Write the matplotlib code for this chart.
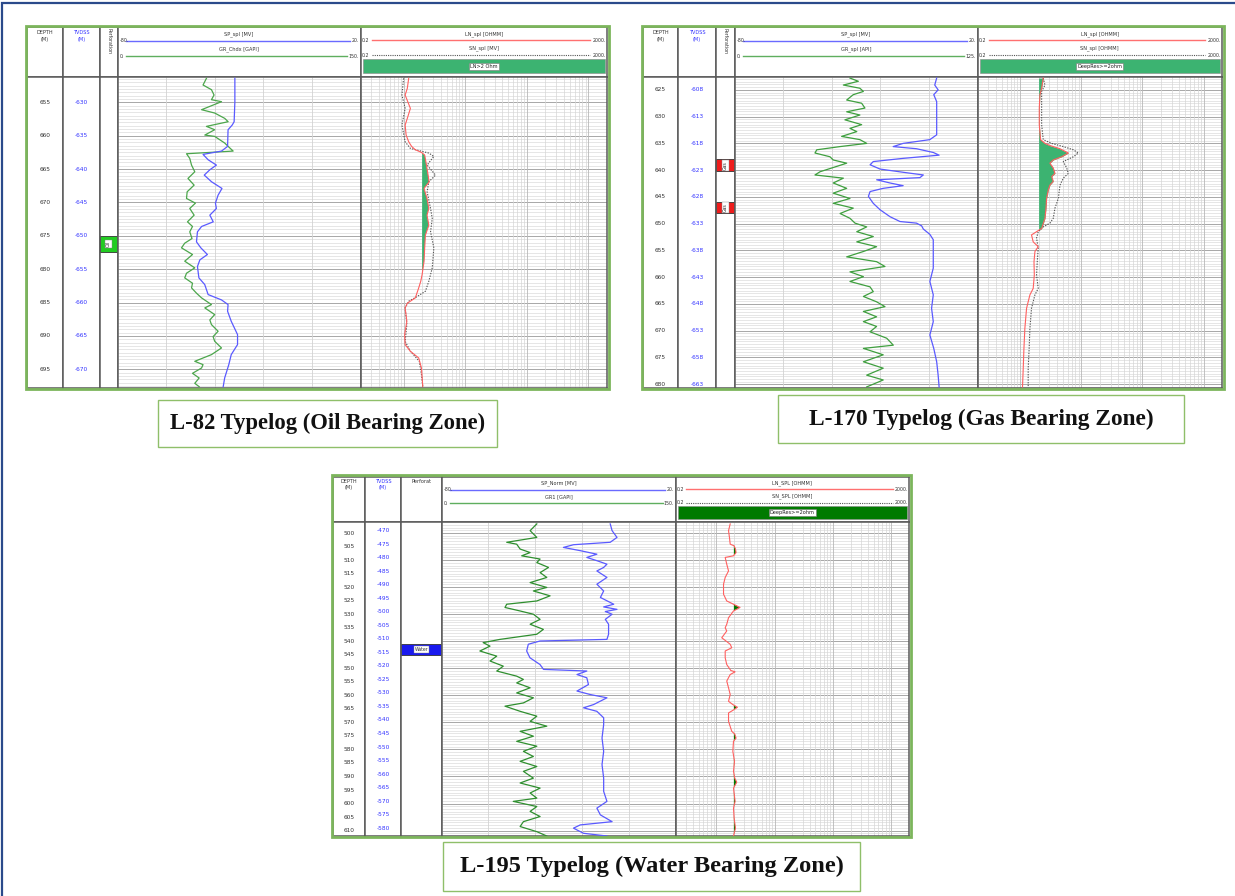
import numpy as np
import matplotlib
matplotlib.use("Agg")
import matplotlib.pyplot as plt
from matplotlib.patches import Rectangle
from matplotlib.ticker import LogLocator, NullFormatter

W, H = 1235, 896

# ---------------- data: L-82 (oil) ----------------
l82_gr_depth = [651.4, 652.4, 653.1, 653.9, 654.6, 654.9, 656.1, 656.6, 657.4, 657.9, 658.6, 659.1, 659.9,
                660.1, 661.1, 661.6, 662.3, 662.7, 663.4, 664.4, 665.4, 666.4, 667.4, 668.4, 669.4, 670.1,
                670.9, 671.9, 672.9, 673.6, 674.4, 675.4, 676.1, 676.8, 677.8, 678.8, 679.8, 680.6, 681.3,
                682.1, 682.8, 683.6, 684.3, 685.3, 685.8, 686.8, 687.6, 688.3, 689.3, 690.1, 690.8, 691.8,
                692.8, 693.8, 694.3, 694.8, 695.6, 696.3, 697.1, 697.6]
l82_gr = [54.9, 52.8, 58.0, 59.6, 58.0, 64.2, 51.9, 60.0, 66.2, 68.3, 54.9, 60.0, 53.9,
          60.0, 66.2, 68.3, 71.4, 42.6, 44.6, 45.7, 47.7, 43.5, 47.3, 43.0, 42.6, 48.1,
          44.6, 47.3, 43.2, 46.3, 44.6, 46.0, 41.5, 39.5, 46.3, 41.5, 47.7, 42.6, 41.5,
          46.3, 45.7, 48.8, 51.9, 58.0, 53.9, 60.0, 57.0, 58.0, 62.1, 59.0, 60.0, 64.2,
          58.0, 47.7, 52.8, 51.9, 46.3, 50.4, 47.7, 50.4]
l82_sp_depth = [651.4, 654.9, 657.9, 658.4, 659.1, 661.6, 662.3, 662.8, 663.6, 664.4, 665.1, 665.9, 666.9,
                667.9, 668.9, 670.1, 670.9, 671.9, 672.9, 673.6, 674.4, 675.9, 676.8, 677.8, 678.6, 679.6,
                681.3, 682.3, 683.8, 684.6, 685.3, 686.3, 687.8, 689.8, 691.3, 692.8, 694.3, 696.3, 697.6]
l82_sp = [-31.7, -31.7, -32.0, -32.8, -34.5, -34.7, -37.2, -44.8, -42.7, -39.3, -42.0, -44.3, -41.3,
          -37.0, -38.6, -39.7, -39.3, -42.0, -40.6, -45.4, -47.1, -47.5, -45.7, -43.0, -46.1, -47.1,
          -46.5, -44.1, -42.7, -37.2, -34.5, -34.7, -33.2, -30.6, -30.6, -33.2, -34.2, -35.9, -36.5]
l82_ln_depth = [651.4, 652.9, 653.9, 655.9, 657.4, 658.4, 659.9, 660.9, 661.6, 662.1, 662.5, 662.9, 663.9,
                665.4, 666.9, 667.9, 669.4, 670.9, 671.9, 673.4, 674.9, 676.8, 678.8, 680.8, 681.8, 682.8,
                684.3, 685.1, 685.8, 687.8, 689.8, 691.3, 692.3, 693.3, 694.8, 697.6]
l82_ln = [1.21, 1.15, 1.06, 1.29, 1.15, 1.06, 1.10, 1.21, 1.35, 1.55, 1.95, 2.20, 2.30,
          2.45, 2.60, 2.15, 2.40, 2.57, 2.40, 2.57, 2.26, 2.20, 2.15, 2.00, 1.90, 1.76,
          1.55, 1.15, 1.06, 1.13, 1.04, 1.06, 1.29, 1.76, 1.95, 2.05]
l82_sn_depth = [651.4, 653.9, 655.9, 658.4, 660.9, 661.9, 662.6, 663.1, 664.4, 665.9, 666.9, 668.4, 670.9,
                672.4, 674.4, 676.8, 679.8, 681.8, 683.3, 684.1, 684.8, 685.8, 688.3, 690.8, 692.3, 693.8,
                695.8, 697.6]
l82_sn = [1.00, 0.94, 1.06, 0.94, 1.06, 1.29, 2.57, 3.10, 2.41, 3.30, 2.57, 2.41, 2.74,
          2.92, 2.74, 3.10, 2.92, 2.57, 2.26, 1.66, 1.21, 1.06, 1.13, 1.06, 1.29, 1.80,
          1.95, 2.05]

# ---------------- data: L-170 (gas) ----------------
l170_gr_depth = [622.8, 623.4, 624.1, 624.7, 625.3, 625.9, 626.9, 627.5, 628.4, 629.1, 629.7, 630.6, 631.5,
                 632.2, 632.8, 633.7, 634.3, 635.0, 635.6, 636.2, 636.8, 637.5, 638.1, 638.7, 639.3, 640.3,
                 640.9, 641.5, 642.4, 643.4, 644.3, 645.3, 646.2, 647.1, 648.1, 649.0, 649.9, 650.6, 651.5,
                 652.4, 653.4, 654.3, 655.2, 656.2, 657.1, 658.0, 659.0, 659.9, 660.8, 661.8, 662.7, 663.6,
                 664.6, 665.5, 666.4, 667.4, 668.3, 669.2, 670.2, 671.4, 672.7, 673.3, 674.5, 675.8, 677.0,
                 678.3, 679.2, 680.5]
l170_gr = [59.4, 63.7, 56.0, 64.5, 66.3, 61.1, 57.7, 65.4, 67.1, 57.7, 64.5, 56.8, 65.4,
           59.4, 62.9, 55.1, 64.5, 68.0, 54.3, 42.3, 41.4, 49.1, 50.8, 57.7, 52.6, 44.0,
           41.4, 56.0, 50.8, 57.7, 50.8, 59.4, 50.8, 61.1, 54.3, 59.4, 62.0, 68.0, 62.9,
           71.4, 62.9, 73.1, 66.3, 57.7, 73.1, 77.4, 59.4, 66.3, 59.4, 69.7, 71.4, 66.3,
           73.1, 77.4, 66.3, 73.1, 66.3, 73.1, 69.7, 78.3, 81.7, 66.3, 76.5, 66.3, 76.5,
           68.0, 76.5, 68.0]
l170_sp_depth = [622.8, 624.1, 625.0, 625.9, 627.2, 633.4, 634.3, 635.0, 635.6, 636.0, 636.7, 637.2, 637.8,
                 638.4, 639.0, 639.8, 640.4, 640.9, 641.4, 641.8, 642.4, 642.9, 643.4, 644.0, 644.9, 646.2,
                 647.4, 648.7, 649.6, 649.9, 650.4, 651.0, 652.0, 653.0, 655.8, 658.3, 660.8, 663.3, 665.8,
                 668.3, 670.8, 673.3, 675.8, 678.3, 680.5]
l170_sp = [3.2, 2.4, 3.8, 2.0, 3.2, 3.2, 0.4, -10.6, -14.7, -5.1, 1.8, 4.2, -10.6,
           -22.9, -24.2, -20.1, -10.6, -2.3, -3.7, -21.5, -16.0, -10.6, -18.8, -24.2, -24.9, -22.9,
           -20.1, -16.0, -11.9, -5.1, -3.0, -2.3, 0.4, 1.8, 1.8, 1.8, 0.4, 1.8, 1.1,
           1.8, 0.4, 2.0, 3.2, 3.8, 4.2]
l170_ln_depth = [622.8, 624.7, 625.9, 628.4, 631.5, 634.3, 635.0, 635.4, 636.0, 636.8, 637.5, 638.1, 638.7,
                 639.6, 640.6, 641.2, 642.1, 642.8, 643.7, 645.3, 647.1, 649.0, 650.9, 651.5, 652.1, 653.4,
                 654.3, 655.2, 657.1, 659.6, 662.1, 663.3, 665.8, 669.6, 673.3, 677.0, 680.5]
l170_ln = [2.38, 2.24, 2.10, 2.05, 2.05, 2.15, 2.54, 3.06, 4.47, 6.12, 4.77, 3.47, 3.06,
           3.47, 3.70, 3.27, 3.47, 3.06, 2.88, 2.70, 2.64, 2.54, 2.24, 1.85, 1.53, 1.63,
           1.97, 1.74, 1.68, 1.70, 1.63, 1.44, 1.27, 1.19, 1.15, 1.12, 1.09]
l170_sn_depth = [622.8, 624.1, 625.3, 631.5, 634.3, 635.0, 635.6, 636.2, 636.8, 637.5, 638.4, 639.6, 640.6,
                 641.5, 642.8, 645.3, 647.1, 649.0, 649.9, 650.6, 651.5, 652.7, 654.6, 657.1, 659.6, 662.1,
                 663.3, 665.8, 669.6, 673.3, 677.0, 680.5]
l170_sn = [2.38, 2.54, 2.24, 2.24, 2.38, 3.27, 5.07, 7.40, 8.93, 7.40, 5.07, 5.76, 6.12,
           5.07, 4.47, 4.20, 3.70, 3.47, 3.06, 2.38, 1.97, 1.85, 1.97, 1.90, 1.85, 1.97,
           1.74, 1.53, 1.44, 1.40, 1.35, 1.35]

# ---------------- data: L-195 (water) ----------------
l195_gr_depth = [496.6, 499.1, 501.6, 503.4, 504.1, 505.9, 507.2, 508.4, 509.6, 510.9, 512.7, 514.6, 516.4,
                 518.3, 520.1, 521.4, 523.2, 525.1, 526.3, 527.5, 528.8, 530.0, 531.9, 533.7, 535.6, 537.4,
                 539.3, 540.5, 541.8, 543.6, 545.5, 547.3, 549.2, 551.0, 552.9, 554.1, 555.4, 557.2, 559.1,
                 560.9, 562.8, 564.0, 565.9, 567.7, 569.6, 571.4, 573.3, 575.1, 577.0, 578.8, 580.7, 582.6,
                 584.4, 586.3, 588.1, 590.6, 592.4, 594.3, 596.1, 598.0, 599.2, 601.1, 602.9, 604.8, 606.7,
                 608.5, 610.4, 612.0]
l195_gr = [61.1, 56.8, 61.1, 41.8, 48.2, 50.4, 56.8, 51.4, 63.2, 61.1, 68.6, 63.2, 67.5,
           56.8, 67.5, 58.9, 69.6, 61.1, 41.8, 40.7, 50.4, 58.9, 63.2, 56.8, 65.3, 61.1,
           37.5, 26.7, 31.1, 24.6, 35.4, 31.1, 39.6, 35.4, 48.2, 52.5, 48.2, 56.8, 48.2,
           58.9, 52.5, 40.7, 50.4, 61.1, 56.8, 67.5, 50.4, 58.9, 48.2, 61.1, 52.5, 58.9,
           50.4, 61.1, 52.5, 58.9, 50.4, 63.2, 56.8, 61.1, 46.0, 61.1, 56.8, 63.2, 52.5,
           50.4, 61.1, 67.5]
l195_sp_depth = [496.6, 499.1, 501.6, 503.4, 504.3, 505.3, 506.5, 507.8, 509.0, 510.2, 511.5, 512.7, 514.0,
                 516.4, 518.9, 521.4, 523.8, 526.3, 527.3, 528.2, 529.0, 530.0, 531.9, 533.7, 537.4, 539.3,
                 539.9, 541.1, 543.6, 546.1, 548.6, 550.4, 551.0, 552.3, 553.5, 556.0, 558.4, 559.7, 560.9,
                 563.4, 564.6, 565.9, 568.3, 570.8, 575.8, 580.7, 585.6, 590.6, 595.5, 599.2, 601.7, 604.2,
                 606.7, 607.9, 609.1, 611.0, 612.0]
l195_sp = [-7.9, -7.1, -5.0, -7.9, -23.6, -27.9, -20.7, -13.6, -17.9, -13.6, -9.3, -10.7, -13.6,
           -9.3, -13.6, -10.7, -12.1, -6.4, -10.7, -5.0, -10.0, -7.1, -10.0, -8.6, -8.6, -9.3,
           -37.9, -42.9, -43.6, -42.2, -37.9, -36.4, -17.9, -22.1, -17.9, -17.2, -22.1, -16.4, -9.3,
           -15.0, -19.3, -13.6, -10.7, -10.7, -11.4, -10.7, -11.4, -10.7, -10.7, -9.3, -13.6, -12.1,
           -7.1, -20.7, -23.6, -19.3, -9.3]
l195_ln_depth = [496.6, 499.1, 501.6, 504.1, 504.7, 505.9, 507.2, 508.4, 509.0, 511.5, 514.0, 516.4, 518.9,
                 522.6, 525.1, 526.3, 527.5, 528.8, 531.3, 533.7, 535.0, 536.2, 538.7, 541.1, 542.4, 543.6,
                 546.1, 548.6, 550.8, 551.3, 552.3, 554.7, 557.2, 559.7, 562.2, 563.4, 564.4, 565.4, 566.5,
                 569.6, 573.3, 574.3, 575.8, 577.0, 580.7, 584.4, 588.1, 590.6, 592.1, 594.3, 599.2, 601.7,
                 605.4, 609.1, 612.0]
l195_ln = [1.73, 1.62, 1.68, 1.73, 2.02, 2.13, 2.18, 1.97, 1.42, 1.51, 1.62, 1.42, 1.33,
           1.33, 1.51, 1.97, 2.55, 1.97, 1.62, 1.51, 1.42, 1.51, 1.24, 1.73, 1.84, 1.42,
           1.42, 1.51, 1.77, 2.10, 1.73, 1.51, 1.62, 1.73, 1.62, 1.92, 2.30, 1.97, 1.62,
           1.62, 1.84, 2.07, 2.18, 1.97, 1.92, 2.05, 1.97, 2.07, 2.24, 1.97, 2.10, 1.97,
           2.02, 2.13, 1.97]

# depth / tvdss tick labels
l82_md_ticks = list(range(655, 700, 5))
l82_tvd_labels = list(range(-630, -675, -5))
l170_md_ticks = list(range(625, 685, 5))
l170_tvd_labels = [-608, -613, -618, -623, -628, -633, -638, -643, -648, -653, -658, -663]
l195_md_ticks = list(range(500, 615, 5))
l195_tvd_labels = list(range(-470, -585, -5))

fig = plt.figure(figsize=(W / 100, H / 100), dpi=100)
fig.patch.set_facecolor("white")

GRID_C = "#dcdcdc"
MAJ_C = "#a8a8a8"
EDGE_C = "#5a5a5a"


def px_axes(x0, y0, x1, y1):
    return fig.add_axes([x0 / W, 1 - y1 / H, (x1 - x0) / W, (y1 - y0) / H])


def frame(ax):
    ax.set_xticks([])
    ax.set_yticks([])
    for s in ax.spines.values():
        s.set_color(EDGE_C)
        s.set_linewidth(1.1)


def fig_rect(x0, y0, x1, y1, ec, lw, fc="none", z=5):
    fig.add_artist(Rectangle((x0 / W, 1 - y1 / H), (x1 - x0) / W, (y1 - y0) / H,
                             transform=fig.transFigure, fc=fc, ec=ec, lw=lw, zorder=z))


def hgrid(ax, dtop, dbot, step, major):
    minor_d = np.arange(np.ceil(dtop / step) * step, dbot, step)
    ax.hlines(minor_d, 0, 1, transform=ax.get_yaxis_transform(), colors=GRID_C, lw=0.5, zorder=0.5)
    major_d = np.arange(np.ceil(dtop / major) * major, dbot, major)
    ax.hlines(major_d, 0, 1, transform=ax.get_yaxis_transform(), colors=MAJ_C, lw=0.7, zorder=0.6)


def draw_log(outer, xs, ytop, ymid, ybot, dtop, dbot, md_ticks, tvd_labels, tvd_shift,
             perfs, perf_vertical, gr_name, gr_max, sp_name, gr_d, gr_v, sp_d, sp_v,
             ln_name, sn_name, cut_name, bar_c, ln_d, ln_v, sn_d, sn_v, step, major, gr_c):
    hdr = [px_axes(xs[i], ytop, xs[i + 1], ymid) for i in range(5)]
    body = [px_axes(xs[i], ymid, xs[i + 1], ybot) for i in range(5)]
    for a in hdr + body:
        frame(a)
        a.set_xlim(0, 1)
    for a in hdr:
        a.set_ylim(0, 1)

    # header texts
    hdr[0].text(0.5, 0.9, "DEPTH", ha="center", va="center", fontsize=3.6, color="#333333")
    hdr[0].text(0.5, 0.76, "(M)", ha="center", va="center", fontsize=3.6, color="#333333")
    hdr[1].text(0.5, 0.9, "TVDSS", ha="center", va="center", fontsize=3.6, color="#3333ff")
    hdr[1].text(0.5, 0.76, "(M)", ha="center", va="center", fontsize=3.6, color="#3333ff")
    if perf_vertical:
        hdr[2].text(0.5, 0.97, "Perforation", ha="center", va="top", rotation=-90, fontsize=3.4,
                    color="#333333")
    else:
        hdr[2].text(0.5, 0.9, "Perforat", ha="center", va="center", fontsize=3.6, color="#333333")

    h1 = hdr[3]
    h1.text(0.5, 0.86, sp_name, ha="center", va="center", fontsize=3.6, color="#333333")
    h1.plot([0.035, 0.955], [0.72, 0.72], color="#6a6aff", lw=1.0)
    h1.text(0.008, 0.72, "-80.", ha="left", va="center", fontsize=3.4, color="#333333")
    h1.text(0.995, 0.72, "20.", ha="right", va="center", fontsize=3.4, color="#333333")
    h1.text(0.5, 0.56, gr_name, ha="center", va="center", fontsize=3.6, color="#333333")
    h1.plot([0.035, 0.945], [0.42, 0.42], color="#5fae5f", lw=1.0)
    h1.text(0.008, 0.42, "0.", ha="left", va="center", fontsize=3.4, color="#333333")
    h1.text(0.995, 0.42, f"{gr_max}.", ha="right", va="center", fontsize=3.4, color="#333333")

    h2 = hdr[4]
    h2.text(0.5, 0.86, ln_name, ha="center", va="center", fontsize=3.6, color="#333333")
    h2.plot([0.045, 0.93], [0.73, 0.73], color="#ff7070", lw=1.0)
    h2.text(0.006, 0.73, "0.2", ha="left", va="center", fontsize=3.4, color="#333333")
    h2.text(0.995, 0.73, "2000.", ha="right", va="center", fontsize=3.4, color="#333333")
    h2.text(0.5, 0.57, sn_name, ha="center", va="center", fontsize=3.6, color="#333333")
    h2.plot([0.045, 0.93], [0.43, 0.43], color="#555555", lw=0.8, ls=(0, (1, 1)))
    h2.text(0.006, 0.43, "0.2", ha="left", va="center", fontsize=3.4, color="#333333")
    h2.text(0.995, 0.43, "2000.", ha="right", va="center", fontsize=3.4, color="#333333")
    h2.add_patch(Rectangle((0.01, 0.07), 0.98, 0.28, fc=bar_c, ec="#888888", lw=0.4))
    h2.text(0.5, 0.21, cut_name, ha="center", va="center", fontsize=3.6, color="#222222",
            bbox=dict(fc="white", ec="#777777", lw=0.4, pad=0.8))

    for a in body:
        a.set_ylim(dbot, dtop)

    # depth column
    for d in md_ticks:
        body[0].text(0.5, d, f"{d}", transform=body[0].get_yaxis_transform(), ha="center",
                     va="center", fontsize=4.2, color="#333333")
    for d, t in zip(md_ticks, tvd_labels):
        body[1].text(0.5, d - tvd_shift, f"{t}", transform=body[1].get_yaxis_transform(),
                     ha="center", va="center", fontsize=4.2, color="#3333ff")

    # perforations
    for d0, d1, c, lab, rot in perfs:
        body[2].axhspan(d0, d1, fc=c, ec="#333333", lw=0.6)
        body[2].text(0.5, (d0 + d1) / 2, lab, ha="center", va="center", rotation=rot,
                     fontsize=3.3, color="#333333", transform=body[2].get_yaxis_transform(),
                     bbox=dict(fc="white", ec="#888888", lw=0.3, pad=0.6))

    # track 1: GR / SP
    ax_gr = body[3]
    ax_gr.set_xlim(0, gr_max)
    hgrid(ax_gr, dtop, dbot, step, major)
    ax_gr.vlines(np.linspace(0, gr_max, 6)[1:-1], dtop, dbot, colors="#d2d2d2", lw=0.6, zorder=0.7)
    ax_gr.plot(gr_v, gr_d, color=gr_c, lw=0.9, zorder=3)
    ax_sp = ax_gr.twiny()
    ax_sp.set_xlim(-80, 20)
    ax_sp.set_xticks([])
    for s in ax_sp.spines.values():
        s.set_visible(False)
    ax_sp.plot(sp_v, sp_d, color="#5a5aff", lw=0.9, zorder=3)

    # track 2: resistivity (log)
    ax_r = body[4]
    ax_r.set_xscale("log")
    ax_r.set_xlim(0.2, 2000)
    ax_r.xaxis.set_major_locator(LogLocator(base=10, numticks=10))
    ax_r.xaxis.set_minor_locator(LogLocator(base=10, subs=np.arange(2, 10), numticks=40))
    ax_r.xaxis.set_minor_formatter(NullFormatter())
    ax_r.tick_params(which="both", length=0, labelbottom=False)
    ax_r.grid(True, which="minor", axis="x", color="#d6d6d6", lw=0.5, zorder=0.4)
    ax_r.grid(True, which="major", axis="x", color="#b8b8b8", lw=0.6, zorder=0.4)
    hgrid(ax_r, dtop, dbot, step, major)
    ln_d = np.array(ln_d)
    ln_v = np.array(ln_v)
    ax_r.fill_betweenx(ln_d, 2.0, ln_v, where=ln_v > 2.0, interpolate=True, color=bar_c, lw=0,
                       zorder=2)
    if sn_d is not None:
        ax_r.plot(sn_v, sn_d, color="#555555", lw=0.8, ls=(0, (1.2, 1.2)), zorder=3)
    ax_r.plot(ln_v, ln_d, color="#ff6060", lw=0.8, zorder=3)

    fig_rect(*outer, ec="#7cb55c", lw=2.0, z=6)


# L-82
draw_log((26, 26, 609, 389), [27, 63, 100, 117.5, 360.5, 607], 27, 77, 388, 651.2, 697.8,
         l82_md_ticks, l82_tvd_labels, 0.0,
         [(675.0, 677.4, "#22cc22", "Oil", 90)], True,
         "GR_Chdx [GAPI]", 150, "SP_spl [MV]", l82_gr_depth, l82_gr, l82_sp_depth, l82_sp,
         "LN_spl [OHMM]", "SN_spl [MV]", "LN>2 Ohm", "#3cb371",
         l82_ln_depth, l82_ln, l82_sn_depth, l82_sn, 0.5, 5, "#4ca64c")

# L-170
draw_log((642, 26, 1224, 389), [643, 678, 716, 734.5, 977.5, 1222], 27, 77, 388, 622.6, 680.7,
         l170_md_ticks, l170_tvd_labels, 0.0,
         [(638.0, 640.2, "#ee1c1c", "Gas", 90), (645.9, 648.1, "#ee1c1c", "Gas", 90)], True,
         "GR_spl [API]", 125, "SP_spl [MV]", l170_gr_depth, l170_gr, l170_sp_depth, l170_sp,
         "LN_spl [OHMM]", "SN_spl [OHMM]", "DeepRes>=2ohm", "#3cb371",
         l170_ln_depth, l170_ln, l170_sn_depth, l170_sn, 0.5, 5, "#3f9f3f")

# L-195
draw_log((332, 475, 911, 837), [333, 365, 401, 441.5, 675.5, 909], 477, 522, 836, 495.9, 612.0,
         l195_md_ticks, l195_tvd_labels, 0.9,
         [(541.1, 545.2, "#1a1aee", "Water", 0)], False,
         "GR1 [GAPI]", 150, "SP_Norm [MV]", l195_gr_depth, l195_gr, l195_sp_depth, l195_sp,
         "LN_SPL [OHMM]", "SN_SPL [OHMM]", "DeepRes>=2ohm", "#007a00",
         l195_ln_depth, l195_ln, None, None, 1.0, 10, "#2f8f2f")

# title boxes
titles = ["L-82 Typelog (Oil Bearing Zone)", "L-170 Typelog (Gas Bearing Zone)",
          "L-195 Typelog (Water Bearing Zone)"]
title_boxes = [(158, 400, 497, 447), (778, 395, 1184, 443), (443, 842, 860, 891)]
title_sizes = [16.3, 16.8, 17.6]
for t, (x0, y0, x1, y1), fs in zip(titles, title_boxes, title_sizes):
    fig_rect(x0, y0, x1, y1, ec="#8fbf6a", lw=1.0, fc="white")
    fig.text((x0 + x1) / 2 / W, 1 - (y0 + y1) / 2 / H, t, ha="center", va="center",
             fontsize=fs, fontweight="bold", family="Liberation Serif", color="#111111", zorder=7)

# outer navy frame
fig_rect(1.5, 3.5, 1240, 900, ec="#2b4a8b", lw=1.6, z=8)

fig.savefig("out.png", dpi=100, facecolor="white")
